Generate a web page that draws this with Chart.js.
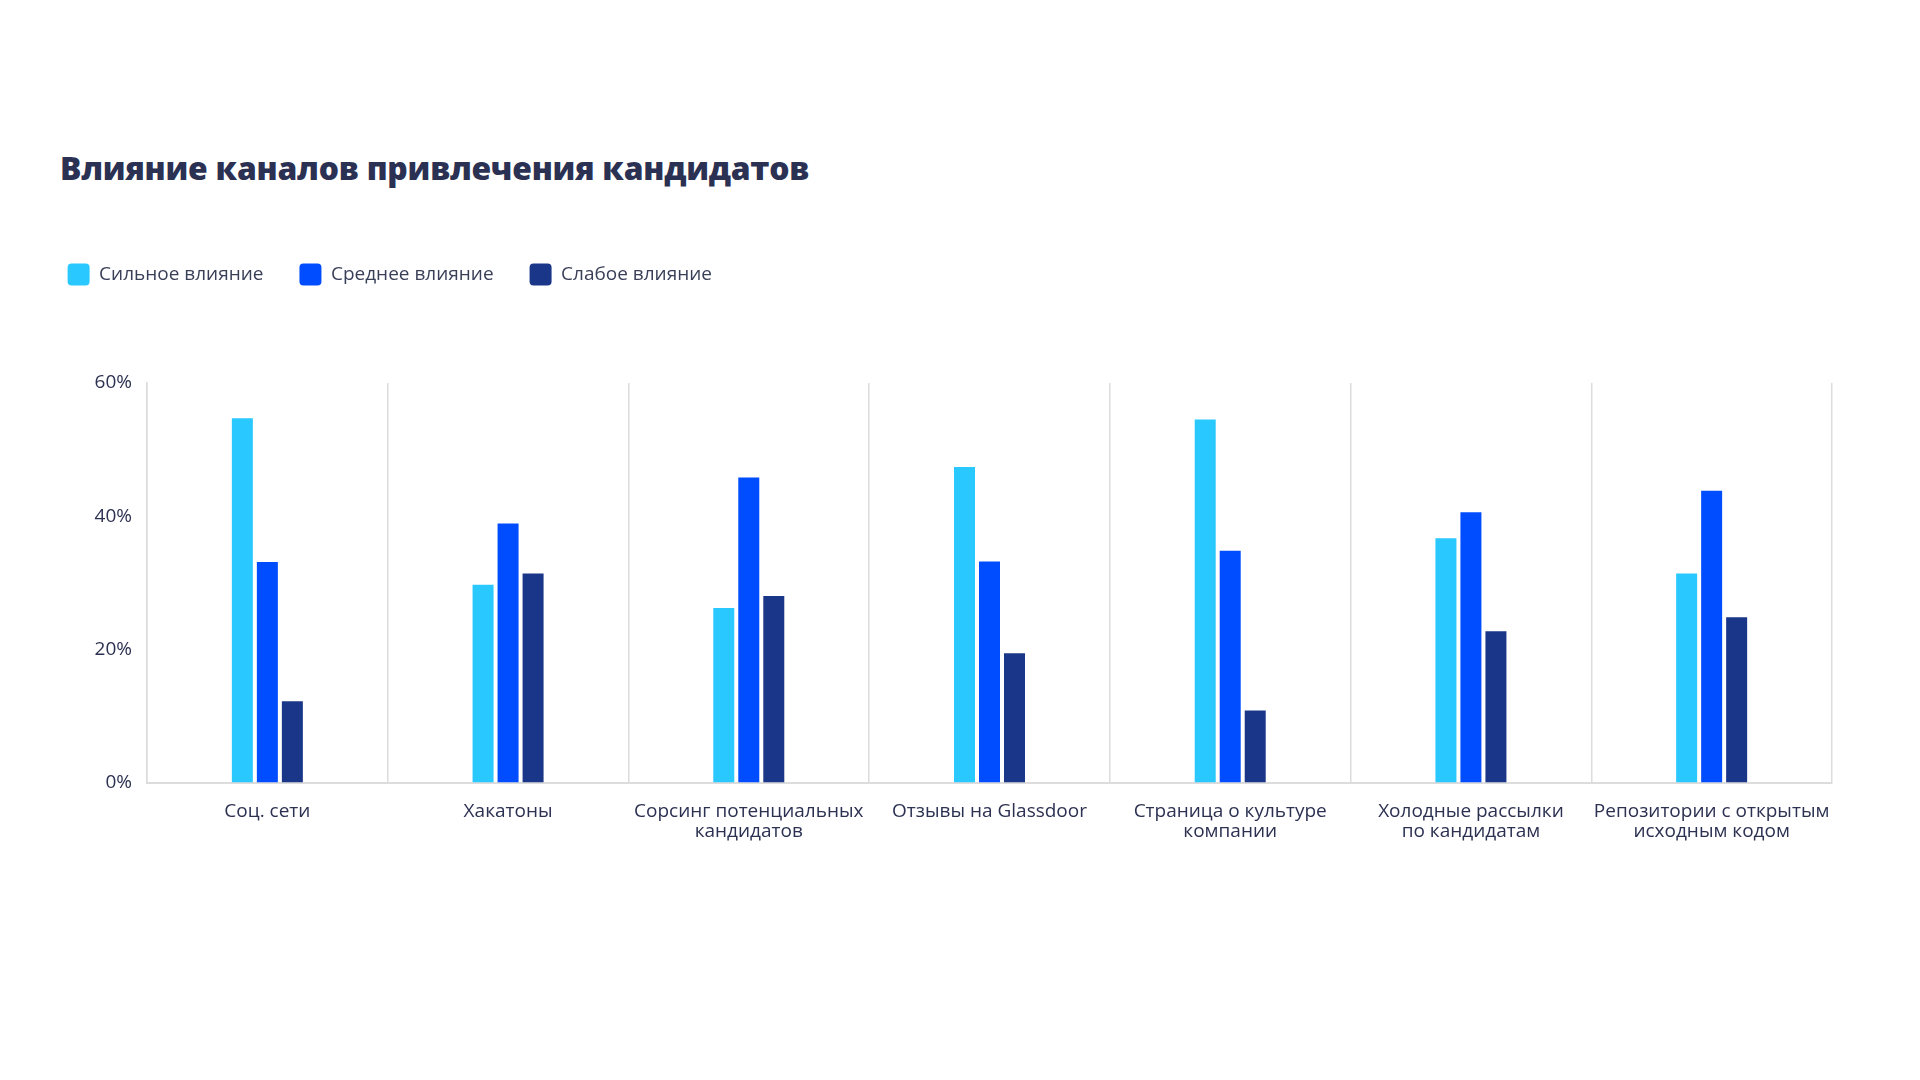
<!DOCTYPE html>
<html lang="ru">
<head>
<meta charset="utf-8">
<title>Влияние каналов привлечения кандидатов</title>
<script src="https://cdn.jsdelivr.net/npm/chart.js@4.4.1/dist/chart.umd.min.js"></script>
<style>
    html, body { margin: 0; padding: 0; background: #ffffff; }
    .wrap { position: relative; width: 1920px; height: 1080px; overflow: hidden; }
    h1 {
        position: absolute;
        left: 60px;
        top: 148px;
        margin: 0;
        font-family: 'Open Sans', sans-serif;
        font-weight: 800;
        font-size: 31.8px;
        line-height: 40px;
        color: #2b3152;
        letter-spacing: -0.2px;
    }
    canvas { position: absolute; left: 0; top: 0; }
</style>
</head>
<body>
<div class="wrap">
    <h1>Влияние каналов привлечения кандидатов</h1>
    <canvas id="chartCanales" width="1920" height="1080"></canvas>
</div>
<script>
// Datos del gráfico
const categorias = [
    'Соц. сети',
    'Хакатоны',
    ['Сорсинг потенциальных', 'кандидатов'],
    'Отзывы на Glassdoor',
    ['Страница о культуре', 'компании'],
    ['Холодные рассылки', 'по кандидатам'],
    ['Репозитории с открытым', 'исходным кодом']
];
const series = ['Сильное влияние', 'Среднее влияние', 'Слабое влияние'];
const fuerte = [54.7, 29.7, 26.2, 47.4, 54.5, 36.7, 31.4];
const medio  = [33.1, 38.9, 45.8, 33.2, 34.8, 40.6, 43.8];
const debil  = [12.2, 31.4, 28.0, 19.4, 10.8, 22.7, 24.8];
const ticksY = [0, 20, 40, 60];

const colores = ['#29c8ff', '#004dff', '#1a3689'];
const colorTexto = '#2c3152';
const colorLinea = '#dcdcdc';

Chart.defaults.font.family = "'Open Sans', sans-serif";
Chart.defaults.color = colorTexto;

// Altura fija de la leyenda para separar el área del gráfico
const margenLeyenda = {
    id: 'margenLeyenda',
    beforeInit(chart) {
        const fitOriginal = chart.legend.fit;
        chart.legend.fit = function fit() {
            fitOriginal.bind(chart.legend)();
            this.height = 155.5;
        };
    }
};

const ctx = document.getElementById('chartCanales').getContext('2d');

new Chart(ctx, {
    type: 'bar',
    data: {
        labels: categorias,
        datasets: [fuerte, medio, debil].map((valores, i) => ({
            label: series[i],
            data: valores,
            backgroundColor: colores[i],
            borderWidth: 0,
            barPercentage: 0.84,
            categoryPercentage: 0.3116
        }))
    },
    options: {
        responsive: false,
        animation: false,
        layout: {
            padding: { left: 31.6, right: 88, top: 227.5, bottom: 217.5 }
        },
        plugins: {
            legend: {
                position: 'top',
                align: 'start',
                labels: {
                    boxWidth: 22,
                    boxHeight: 22,
                    padding: 36,
                    useBorderRadius: true,
                    borderRadius: 4,
                    color: '#3a3f58',
                    font: { size: 19 }
                }
            },
            tooltip: { enabled: false }
        },
        scales: {
            x: {
                grid: {
                    display: true,
                    offset: true,
                    drawTicks: false,
                    color: colorLinea,
                    lineWidth: 1.5
                },
                border: { display: true, color: colorLinea, width: 2 },
                ticks: {
                    padding: 19,
                    color: colorTexto,
                    font: { size: 19, lineHeight: 1.05 },
                    maxRotation: 0,
                    autoSkip: false
                },
                afterFit(scale) { scale.height = 80; }
            },
            y: {
                min: ticksY[0],
                max: ticksY[ticksY.length - 1],
                afterBuildTicks(scale) {
                    scale.ticks = ticksY.map(v => ({ value: v }));
                },
                grid: { display: false, drawTicks: false },
                border: { display: true, color: colorLinea, width: 1.5 },
                ticks: {
                    padding: 15,
                    color: colorTexto,
                    font: { size: 19 },
                    callback: (v) => v + '%'
                },
                afterFit(scale) { scale.width = 115.4; }
            }
        }
    },
    plugins: [margenLeyenda]
});
</script>
</body>
</html>
